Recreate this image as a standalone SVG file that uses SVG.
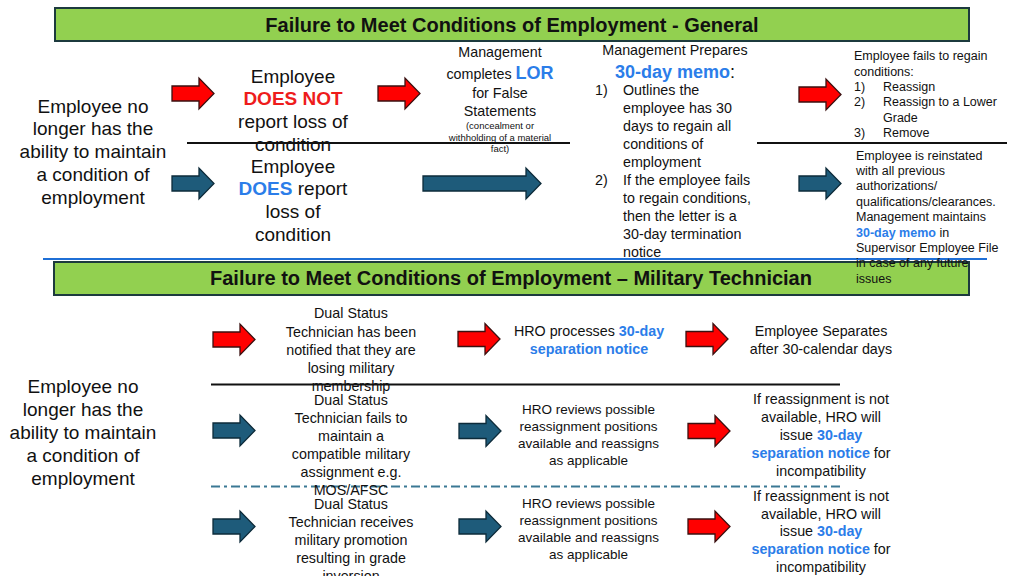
<svg xmlns="http://www.w3.org/2000/svg" width="1024" height="576" viewBox="0 0 1024 576">
<defs>
<style>
text{font-family:"Liberation Sans",Arial,sans-serif;fill:#111}
.c{text-anchor:middle}
.t19{font-size:19px}
.t14{font-size:14.3px}
.t135{font-size:13.5px}
.t125{font-size:12.5px}
.sm{font-size:9.5px}
.hd{font-size:20px;font-weight:bold}
.b{fill:#2B7DE9;font-weight:bold}
.r{fill:#EE1C1C;font-weight:bold}
.bar{fill:#92D050;stroke:#1C3A3E;stroke-width:2}
.ra{fill:#FF0000;stroke:#3A1010;stroke-width:1.3}
.ba{fill:#1E5B7A;stroke:#0D2B3A;stroke-width:1.3}
</style>
<path id="sa" d="M0,-7.5 H27 V-15.5 L42,0 L27,15.5 V7.5 H0 Z"/>
<path id="la" d="M0,-7.5 H103 V-15.5 L118,0 L103,15.5 V7.5 H0 Z"/>
</defs>
<rect width="1024" height="576" fill="#fff"/>

<g id="header-general">
<rect class="bar" x="55" y="8" width="914" height="33"/>
<text class="hd c" x="512" y="32">Failure to Meet Conditions of Employment - General</text>
</g>
<g id="header-military">
<rect class="bar" x="54" y="262" width="915" height="33"/>
<text class="hd c" x="511" y="285">Failure to Meet Conditions of Employment – Military Technician</text>
</g>

<g id="separators">
<line x1="187" y1="143" x2="570" y2="143" stroke="#111" stroke-width="2"/>
<line x1="757" y1="143" x2="1007" y2="143" stroke="#111" stroke-width="2"/>
<line x1="43" y1="259" x2="987" y2="259" stroke="#1F6FD6" stroke-width="2"/>
<line x1="211" y1="384.5" x2="840" y2="384.5" stroke="#111" stroke-width="2"/>
<line x1="211" y1="486.5" x2="842" y2="486.5" stroke="#3A7894" stroke-width="2" stroke-dasharray="9 4 3 4"/>
</g>

<g id="connectors">
<use href="#sa" class="ra" x="172" y="93.5"/>
<use href="#sa" class="ba" x="172" y="183.5"/>
<use href="#sa" class="ra" x="378" y="93.5"/>
<use href="#la" class="ba" x="423" y="183.5"/>
<use href="#sa" class="ra" x="799" y="94.5"/>
<use href="#sa" class="ba" x="799" y="183.5"/>
<use href="#sa" class="ra" x="213" y="339.5"/>
<use href="#sa" class="ra" x="458" y="339"/>
<use href="#sa" class="ra" x="686" y="339"/>
<use href="#sa" class="ba" x="213" y="430.5"/>
<use href="#sa" class="ba" x="459" y="431"/>
<use href="#sa" class="ra" x="688" y="431"/>
<use href="#sa" class="ba" x="213" y="526.5"/>
<use href="#sa" class="ba" x="459" y="526.5"/>
<use href="#sa" class="ra" x="688" y="526.5"/>
</g>

<g id="node-start-general">
<text class="t19 c" x="93" y="112.5">Employee no</text>
<text class="t19 c" x="93" y="135.3">longer has the</text>
<text class="t19 c" x="93" y="158.1">ability to maintain</text>
<text class="t19 c" x="93" y="180.9">a condition of</text>
<text class="t19 c" x="93" y="203.7">employment</text>
</g>

<g id="node-does-not-report">
<text class="t19 c" x="293" y="82.5">Employee</text>
<text class="t19 c r" x="293" y="105">DOES NOT</text>
<text class="t19 c" x="293" y="128">report loss of</text>
<text class="t19 c" x="293" y="150.5">condition</text>
</g>

<g id="node-does-report">
<text class="t19 c" x="293" y="172.5">Employee</text>
<text class="t19 c" x="293" y="195"><tspan class="b">DOES</tspan> report</text>
<text class="t19 c" x="293" y="218">loss of</text>
<text class="t19 c" x="293" y="240.5">condition</text>
</g>

<g id="node-lor">
<text class="t14 c" x="500" y="57">Management</text>
<text class="t14 c" x="500" y="79">completes <tspan class="b" style="font-size:18px">LOR</tspan></text>
<text class="t14 c" x="500" y="98">for False</text>
<text class="t14 c" x="500" y="116">Statements</text>
<text class="sm c" x="500" y="129">(concealment or</text>
<text class="sm c" x="500" y="140.5">withholding of a material</text>
<text class="sm c" x="500" y="152">fact)</text>
</g>

<g id="node-30day-memo">
<text class="t14 c" x="675" y="55">Management Prepares</text>
<text class="c" x="675" y="77.5" style="font-size:18px"><tspan class="b">30-day memo</tspan>:</text>
<text class="t14" x="595" y="95">1)</text>
<text class="t14" x="623" y="95">Outlines the</text>
<text class="t14" x="623" y="113">employee has 30</text>
<text class="t14" x="623" y="131">days to regain all</text>
<text class="t14" x="623" y="149">conditions of</text>
<text class="t14" x="623" y="167">employment</text>
<text class="t14" x="595" y="185">2)</text>
<text class="t14" x="623" y="185">If the employee fails</text>
<text class="t14" x="623" y="203">to regain conditions,</text>
<text class="t14" x="623" y="221">then the letter is a</text>
<text class="t14" x="623" y="239">30-day termination</text>
<text class="t14" x="623" y="257">notice</text>
</g>

<g id="node-fails-regain">
<text class="t125" x="854" y="60">Employee fails to regain</text>
<text class="t125" x="854" y="75.5">conditions:</text>
<text class="t125" x="854" y="91">1)</text>
<text class="t125" x="883" y="91">Reassign</text>
<text class="t125" x="854" y="106">2)</text>
<text class="t125" x="883" y="106">Reassign to a Lower</text>
<text class="t125" x="883" y="121.5">Grade</text>
<text class="t125" x="854" y="136.5">3)</text>
<text class="t125" x="883" y="136.5">Remove</text>
</g>

<g id="node-reinstated">
<text class="t125" x="856" y="159.5">Employee is reinstated</text>
<text class="t125" x="856" y="174.5">with all previous</text>
<text class="t125" x="856" y="190">authorizations/</text>
<text class="t125" x="856" y="205.5">qualifications/clearances.</text>
<text class="t125" x="856" y="221">Management maintains</text>
<text class="t125" x="856" y="236.5"><tspan class="b">30-day memo</tspan> in</text>
<text class="t125" x="856" y="251.5">Supervisor Employee File</text>
<text class="t125" x="856" y="267">in case of any future</text>
<text class="t125" x="856" y="282.5">issues</text>
</g>

<g id="node-start-military">
<text class="t19 c" x="83" y="392.5">Employee no</text>
<text class="t19 c" x="83" y="415.5">longer has the</text>
<text class="t19 c" x="83" y="438.5">ability to maintain</text>
<text class="t19 c" x="83" y="461.5">a condition of</text>
<text class="t19 c" x="83" y="484.5">employment</text>
</g>

<g id="node-losing-membership">
<text class="t14 c" x="351" y="318">Dual Status</text>
<text class="t14 c" x="351" y="336.5">Technician has been</text>
<text class="t14 c" x="351" y="354.5">notified that they are</text>
<text class="t14 c" x="351" y="372.5">losing military</text>
<text class="t14 c" x="351" y="390.5">membership</text>
</g>

<g id="node-incompatible-assignment">
<text class="t14 c" x="351" y="405">Dual Status</text>
<text class="t14 c" x="351" y="423">Technician fails to</text>
<text class="t14 c" x="351" y="441">maintain a</text>
<text class="t14 c" x="351" y="459">compatible military</text>
<text class="t14 c" x="351" y="477">assignment e.g.</text>
<text class="t14 c" x="351" y="495">MOS/AFSC</text>
</g>

<g id="node-grade-inversion">
<text class="t14 c" x="351" y="509">Dual Status</text>
<text class="t14 c" x="351" y="527">Technician receives</text>
<text class="t14 c" x="351" y="545">military promotion</text>
<text class="t14 c" x="351" y="563">resulting in grade</text>
<text class="t14 c" x="351" y="581">inversion</text>
</g>

<g id="node-hro-processes">
<text class="t14 c" x="589" y="336">HRO processes <tspan class="b">30-day</tspan></text>
<text class="t14 c b" x="589" y="353.5">separation notice</text>
</g>

<g id="node-separates">
<text class="t14 c" x="821" y="336">Employee Separates</text>
<text class="t14 c" x="821" y="353.5">after 30-calendar days</text>
</g>

<g id="node-hro-reviews-1">
<text class="t135 c" x="588.5" y="414">HRO reviews possible</text>
<text class="t135 c" x="588.5" y="431">reassignment positions</text>
<text class="t135 c" x="588.5" y="448">available and reassigns</text>
<text class="t135 c" x="588.5" y="464.5">as applicable</text>
</g>

<g id="node-separation-1">
<text class="t14 c" x="821" y="404">If reassignment is not</text>
<text class="t14 c" x="821" y="422">available, HRO will</text>
<text class="t14 c" x="821" y="440">issue <tspan class="b">30-day</tspan></text>
<text class="t14 c" x="821" y="458"><tspan class="b">separation notice</tspan> for</text>
<text class="t14 c" x="821" y="476">incompatibility</text>
</g>

<g id="node-hro-reviews-2">
<text class="t135 c" x="588.5" y="508">HRO reviews possible</text>
<text class="t135 c" x="588.5" y="525">reassignment positions</text>
<text class="t135 c" x="588.5" y="542">available and reassigns</text>
<text class="t135 c" x="588.5" y="558.5">as applicable</text>
</g>

<g id="node-separation-2">
<text class="t14 c" x="821" y="501">If reassignment is not</text>
<text class="t14 c" x="821" y="518.5">available, HRO will</text>
<text class="t14 c" x="821" y="536">issue <tspan class="b">30-day</tspan></text>
<text class="t14 c" x="821" y="554"><tspan class="b">separation notice</tspan> for</text>
<text class="t14 c" x="821" y="572">incompatibility</text>
</g>
</svg>
